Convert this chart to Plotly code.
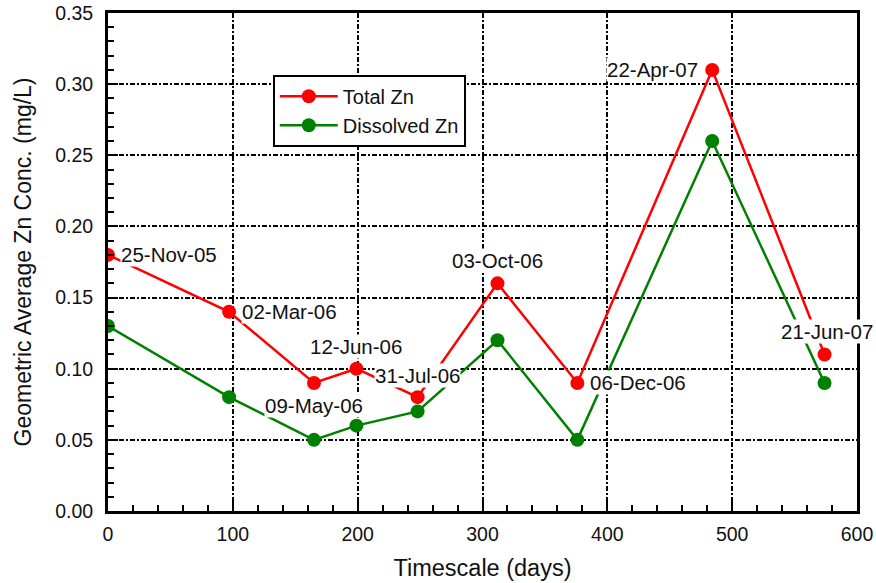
import plotly.graph_objects as go

days = [0, 97, 165, 199, 248, 312, 376, 484, 574]
dates = ["25-Nov-05", "02-Mar-06", "09-May-06", "12-Jun-06", "31-Jul-06",
         "03-Oct-06", "06-Dec-06", "22-Apr-07", "21-Jun-07"]
total_zn = [0.18, 0.14, 0.09, 0.10, 0.08, 0.16, 0.09, 0.31, 0.11]
dissolved_zn = [0.13, 0.08, 0.05, 0.06, 0.07, 0.12, 0.05, 0.26, 0.09]

# label placement relative to the Total Zn point: (xanchor, xshift, yshift)
label_pos = [("left", 12, 0), ("left", 12, 0), ("center", 0, -23),
             ("center", 0, 22), ("center", 0, 22), ("center", 0, 23),
             ("left", 12, 0), ("right", -13, 0), ("center", 2, 23)]

FONT = "Liberation Sans, Arial, sans-serif"

fig = go.Figure()
fig.add_trace(go.Scatter(x=days, y=total_zn, mode="lines+markers", name="Total Zn",
                         line=dict(color="#ff0000", width=2.5),
                         marker=dict(color="#ff0000", size=14)))
fig.add_trace(go.Scatter(x=days, y=dissolved_zn, mode="lines+markers", name="Dissolved Zn",
                         line=dict(color="#008000", width=2.5),
                         marker=dict(color="#008000", size=14)))

for d, v, t, (xa, xs, ys) in zip(days, total_zn, dates, label_pos):
    fig.add_annotation(x=d, y=v, text=t, showarrow=False, xanchor=xa, yanchor="middle",
                       xshift=xs, yshift=ys, bgcolor="white", borderpad=0,
                       font=dict(family=FONT, size=20.5, color="#111"))

axis_common = dict(showline=True, linecolor="black", linewidth=3, mirror=True,
                   showgrid=True, gridcolor="black", gridwidth=2,
                   griddash="5px,2px,2px,2px", zeroline=False, automargin=False,
                   ticks="inside", tickcolor="black", tickwidth=2, ticklen=10,
                   tickfont=dict(family=FONT, size=19.5, color="#111"))

fig.update_layout(
    width=876, height=583,
    margin=dict(l=108, r=19, t=13, b=72),
    paper_bgcolor="white", plot_bgcolor="white",
    font=dict(family=FONT, color="#111"),
    showlegend=True,
    legend=dict(x=0.22, y=0.876, xanchor="left", yanchor="top",
                bgcolor="white", bordercolor="black", borderwidth=2,
                font=dict(family=FONT, size=20, color="#111"),
                itemwidth=58, tracegroupgap=0),
    xaxis=dict(range=[0, 600], dtick=100, tick0=0,
               title=dict(text="Timescale (days)", font=dict(family=FONT, size=23.5, color="#111"),
                          standoff=16),
               minor=dict(dtick=20, ticks="inside", ticklen=6, tickcolor="black",
                          tickwidth=1.5, showgrid=False),
               ticklabelstandoff=4,
               **axis_common),
    yaxis=dict(range=[0, 0.35], dtick=0.05, tick0=0, tickformat=".2f",
               title=dict(text="Geometric Average Zn Conc. (mg/L)",
                          font=dict(family=FONT, size=23, color="#111"), standoff=18),
               minor=dict(dtick=0.01, ticks="inside", ticklen=6, tickcolor="black",
                          tickwidth=1.5, showgrid=False),
               ticklabelstandoff=8,
               **axis_common),
)

fig.write_html("out.html")
